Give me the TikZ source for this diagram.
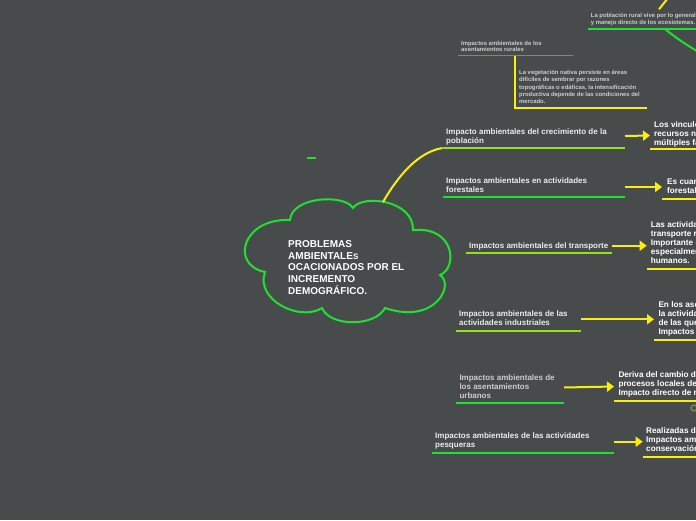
\documentclass[tikz,border=0pt]{standalone}
\usepackage{fontspec}
\setmainfont{Liberation Sans}
\usetikzlibrary{arrows.meta,calc}
\definecolor{bgc}{RGB}{71,75,76}
\definecolor{grn}{RGB}{30,225,50}
\definecolor{lgrn}{RGB}{150,225,20}
\definecolor{ylw}{RGB}{250,238,10}
\definecolor{olv}{RGB}{140,140,60}
\definecolor{txt}{RGB}{235,235,235}
\definecolor{txtg}{RGB}{205,205,205}
\tikzset{
  lbl/.style={anchor=base west, inner sep=0pt, align=left, text=txt, font=\fontsize{8}{9}\selectfont\bfseries},
  rlbl/.style={lbl, text=white, font=\fontsize{8.2}{9}\selectfont\bfseries},
  small/.style={lbl, text=txtg, font=\fontsize{5.9}{7.2}\selectfont\bfseries},
  ul/.style={line width=2pt, draw=#1},
  arr/.style={draw=ylw, line width=2pt, -{Triangle[length=7pt,width=10pt]}},
}
\begin{document}
\begin{tikzpicture}[x=1pt,y=-1pt]
\useasboundingbox (0,0) rectangle (696,520);
\fill[bgc] (0,0) rectangle (696,520);
\clip (0,0) rectangle (696,520);

% cloud
\draw[grn, line width=2pt, fill=bgc] (290,220) .. controls (292,196) and (345,194) .. (353,208)
  .. controls (362,194) and (414,200) .. (413,230)
  .. controls (455,226) and (458,268) .. (440,275)
  .. controls (455,285) and (435,325) .. (385,308)
  .. controls (375,327) and (330,327) .. (322,308)
  .. controls (300,322) and (255,300) .. (265,272)
  .. controls (230,265) and (242,218) .. (290,220) -- cycle;
\node[anchor=base west, inner sep=0pt, align=left, text=white, font=\fontsize{10}{11.6}\selectfont\bfseries] (root) at (288,294)
  {PROBLEMAS\\AMBIENTALE{\fontsize{8}{11.6}\selectfont S}\\OCACIONADOS POR EL\\INCREMENTO\\DEMOGRÁFICO.};
\coordinate (cloudtop) at (383,202);
\draw[grn, line width=2pt] (307.3,158) -- (316,158);

% top region
\node[small] (rur) at (461,51.9) {Impactos ambientales de los\\[-0.6pt]asentamientos rurales};
\coordinate (rurL) at (458.3,55.5); \coordinate (rurR) at (572.7,55.5);
\draw[line width=1pt, olv] (rurL) -- (rurR);
\node[small] (veg) at (519,103.5) {La vegetación nativa persiste en áreas\\difíciles de sembrar por razones\\topográficas o edáficas, la intensificación\\productiva depende de las condiciones del\\mercado.};
\coordinate (vegL) at (515,108); \coordinate (vegR) at (646.7,108);
\draw[ul=ylw] (vegL |- rurL) -- (vegL) -- (vegR);
\node[small] (pob) at (590.7,24.8) {La población rural vive por lo general\\[0.3pt]y manejo directo de los ecosistemas.};
\coordinate (pobL) at (587.5,29); \coordinate (pobR) at (700,29);
\draw[ul=grn] (pobL) -- (pobR);
\coordinate (pobA) at (659,9.3); \coordinate (topA) at (668,-2);
\draw[ylw, line width=2pt] (pobA) -- (topA);
\coordinate (pobB) at (665,29); \coordinate (offB) at (702,54);
\draw[grn, line width=2pt] (pobB) .. controls (676,38) and (688,46) .. (offB);

% branch 1
\node[lbl] (cre) at (446,143) {Impacto ambientales del crecimiento de la\\población};
\coordinate (creL) at (442.5,148); \coordinate (creR) at (625,148);
\draw[ul=lgrn] (creL) -- (creR);
\draw[ylw, line width=2pt] (cloudtop) .. controls (398,176) and (418,152) .. (creL);
\node[rlbl] (creT) at (654,145) {Los vinculos\\recursos naturales\\múltiples factores};
\coordinate (creTL) at (650,149); \coordinate (creTR) at (700,149);
\draw[ul=ylw] (creTL) -- (creTR);
\draw[arr] ([yshift=12pt]creR) -- ([yshift=13.5pt]creTL);

% branch 2
\node[lbl] (for) at (446,192) {Impactos ambientales en actividades\\forestales};
\coordinate (forL) at (443,197); \coordinate (forR) at (625,197);
\draw[ul=grn] (forL) -- (forR);
\node[rlbl] (forT) at (667,193.5) {Es cuando\\forestales};
\coordinate (forTL) at (662,199); \coordinate (forTR) at (700,199);
\draw[ul=ylw] (forTL) -- (forTR);
\draw[arr] ([yshift=10pt]forR) -- ([yshift=12pt]forTL);

% branch 3
\node[lbl] (tra) at (469,248) {Impactos ambientales del transporte};
\coordinate (traL) at (465.7,253); \coordinate (traR) at (612,253);
\draw[ul=lgrn] (traL) -- (traR);
\node[rlbl] (traT) at (650.7,263.5) {Las actividades\\transporte r\\Importante e\\especialmente\\humanos.};
\coordinate (traTL) at (646.7,269); \coordinate (traTR) at (700,269);
\draw[ul=ylw] (traTL) -- (traTR);
\draw[arr] ([yshift=7.3pt]traR) -- ([yshift=23.3pt]traTL);

% branch 4
\node[lbl] (ind) at (459,325) {Impactos ambientales de las\\actividades industriales};
\coordinate (indL) at (455.7,331); \coordinate (indR) at (581,331);
\draw[ul=lgrn] (indL) -- (indR);
\node[rlbl] (indT) at (658.3,334.5) {En los asentamientos\\la actividad\\de las que\\Impactos a};
\coordinate (indTL) at (654,340); \coordinate (indTR) at (700,340);
\draw[ul=ylw] (indTL) -- (indTR);
\draw[arr] ([yshift=11.7pt]indR) -- ([yshift=20.7pt]indTL);

% branch 5
\node[lbl, text=txtg] (urb) at (459.3,398.5) {Impactos ambientales de\\los asentamientos\\urbanos};
\coordinate (urbL) at (456,403); \coordinate (urbR) at (564,403);
\draw[ul=grn] (urbL) -- (urbR);
\node[rlbl] (urbT) at (618.3,395.5) {Deriva del cambio de\\procesos locales de\\Impacto directo de m};
\coordinate (urbTL) at (614,401); \coordinate (urbTR) at (700,401);
\draw[ul=ylw] (urbTL) -- (urbTR);
\draw[arr] ([yshift=15.5pt]urbR) -- ([yshift=14.5pt]urbTL);
\coordinate (dot) at (694,408);
\draw[olv, line width=1.2pt] (dot) circle (3);

% branch 6
\node[lbl] (pes) at (435,447.3) {Impactos ambientales de las actividades\\pesqueras};
\coordinate (pesL) at (431.7,453); \coordinate (pesR) at (614,453);
\draw[ul=grn] (pesL) -- (pesR);
\node[rlbl] (pesT) at (646,451.5) {Realizadas de\\Impactos amb\\conservación};
\coordinate (pesTL) at (642.7,457); \coordinate (pesTR) at (700,457);
\draw[ul=ylw] (pesTL) -- (pesTR);
\draw[arr] ([yshift=11.3pt]pesR) -- ([yshift=15.3pt]pesTL);
\end{tikzpicture}
\end{document}
